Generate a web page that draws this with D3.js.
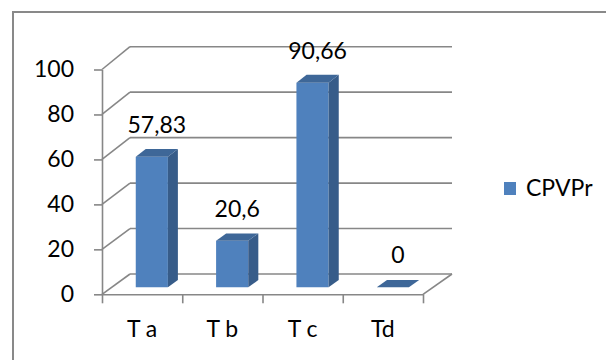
<!DOCTYPE html>
<html>
<head>
<meta charset="utf-8">
<script src="https://cdn.jsdelivr.net/npm/d3@7"></script>
<style>
  html, body { margin: 0; padding: 0; background: #fff; }
  svg { display: block; }
  text { font-family: Lato, "Open Sans", sans-serif; fill: #000; }
</style>
</head>
<body>
<svg id="chart" width="606" height="360"></svg>
<script>
// Chart data
const categories = ["T a", "T b", "T c", "Td"];
const values = [57.83, 20.6, 90.66, 0];
const yTicks = [0, 20, 40, 60, 80, 100];
const seriesName = "CPVPr";

const svg = d3.select("#chart");
const fontSize = 23;

// Chart area border
svg.append("rect")
  .attr("x", 13).attr("y", 12)
  .attr("width", 620).attr("height", 380)
  .attr("fill", "#fff")
  .attr("stroke", "#898989")
  .attr("stroke-width", 2);

// 3D frame: a front plane and a back plane, interpolated by depth d in [0,1]
const xFront = d3.scaleLinear().domain([0, 1]).range([102, 423]);
const xBack  = d3.scaleLinear().domain([0, 1]).range([130, 452]);
const yFront = d3.scaleLinear().domain([0, 100]).range([294.3, 69.5]);
const yBack  = d3.scaleLinear().domain([0, 100]).range([274, 46.7]);
const band = d3.scaleBand().domain(categories).range([0, 1])
  .paddingInner(0.6).paddingOuter(0.3);

function proj(u, v, d) {
  return [
    xFront(u) * (1 - d) + xBack(u) * d,
    yFront(v) * (1 - d) + yBack(v) * d
  ];
}
const line = d3.line();
const gridColor = "#878787";

// Back wall gridlines and side wall diagonals
const walls = svg.append("g");
yTicks.forEach(t => {
  walls.append("path")
    .attr("d", line([proj(0, t, 1), proj(1, t, 1)]))
    .attr("stroke", gridColor).attr("stroke-width", 1.6).attr("fill", "none");
  walls.append("path")
    .attr("d", line([proj(0, t, 0), proj(0, t, 1)]))
    .attr("stroke", gridColor).attr("stroke-width", 1.6).attr("fill", "none");
});

// Floor: right edge
walls.append("path")
  .attr("d", line([proj(1, 0, 0), proj(1, 0, 1)]))
  .attr("stroke", gridColor).attr("stroke-width", 1.6).attr("fill", "none");

// Value axis on the front-left edge
const yAxis = d3.axisLeft(yFront)
  .tickValues(yTicks)
  .tickSize(8)
  .tickSizeOuter(0)
  .tickPadding(20)
  .tickFormat(d3.format("d"));
const gy = svg.append("g")
  .attr("transform", `translate(${xFront(0)},0)`)
  .call(yAxis);
gy.select(".domain").attr("stroke", gridColor).attr("stroke-width", 1.6);
gy.selectAll(".tick line").attr("stroke", gridColor).attr("stroke-width", 1.6);
gy.selectAll(".tick text")
  .attr("font-size", fontSize)
  .attr("font-family", "Lato, sans-serif")
  .attr("fill", "#000");

// Category axis on the front floor edge (ticks at category boundaries)
const xAxis = d3.axisBottom(xFront)
  .tickValues(d3.range(0, categories.length + 1).map(i => i / categories.length))
  .tickSize(9)
  .tickSizeOuter(0)
  .tickFormat("");
const gx = svg.append("g")
  .attr("transform", `translate(0,${yFront(0)})`)
  .call(xAxis);
gx.select(".domain").attr("stroke", gridColor).attr("stroke-width", 1.6);
gx.selectAll(".tick line").attr("stroke", gridColor).attr("stroke-width", 1.6);

svg.append("g").selectAll("text")
  .data(categories)
  .join("text")
  .attr("x", d => xFront(band(d) + band.bandwidth() / 2))
  .attr("y", 337)
  .attr("text-anchor", "middle")
  .attr("font-size", fontSize)
  .style("white-space", "pre")
  .text(d => d);

// Bars
const d0 = 0.345, d1 = 0.70;
const faceFront = "#4F81BD", faceSide = "#375C89", faceTop = "#3E6798";
const bars = svg.append("g");
categories.forEach((c, i) => {
  const u0 = band(c), u1 = band(c) + band.bandwidth();
  const v = values[i];
  const g = bars.append("g");
  if (v > 0) {
    g.append("path")
      .attr("d", line([proj(u0, 0, d0), proj(u1, 0, d0), proj(u1, v, d0), proj(u0, v, d0)]) + "Z")
      .attr("fill", faceFront);
    g.append("path")
      .attr("d", line([proj(u1, 0, d0), proj(u1, 0, d1), proj(u1, v, d1), proj(u1, v, d0)]) + "Z")
      .attr("fill", faceSide);
  }
  g.append("path")
    .attr("d", line([proj(u0, v, d0), proj(u1, v, d0), proj(u1, v, d1), proj(u0, v, d1)]) + "Z")
    .attr("fill", faceTop);
});

// Data labels (decimal comma)
const fmt = v => String(v).replace(".", ",");
svg.append("g").selectAll("text")
  .data(categories)
  .join("text")
  .attr("x", (c) => proj(band(c) + band.bandwidth() / 2, 0, (d0 + d1) / 2)[0])
  .attr("y", (c, i) => proj(0, values[i], d0)[1] - 24)
  .attr("text-anchor", "middle")
  .attr("font-size", fontSize)
  .text((c, i) => fmt(values[i]));

// Legend
const legend = svg.append("g");
legend.append("rect")
  .attr("x", 504).attr("y", 182)
  .attr("width", 12).attr("height", 13)
  .attr("fill", faceFront);
legend.append("text")
  .attr("x", 526).attr("y", 196)
  .attr("font-size", fontSize)
  .text(seriesName);
</script>
</body>
</html>
